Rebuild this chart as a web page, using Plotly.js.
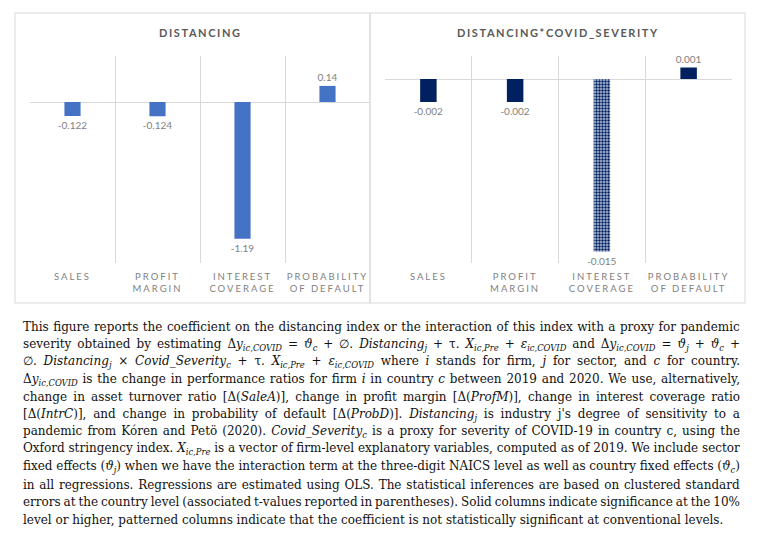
<!DOCTYPE html>
<html>
<head>
<meta charset="utf-8">
<script src="https://cdn.plot.ly/plotly-3.0.1.min.js"></script>
<style>html,body{margin:0;padding:0;background:#fff;}#chart{width:764px;height:549px;}</style>
</head>
<body>
<div id="chart"></div>
<script>
// ---- data ----
const categories = ["SALES", "PROFIT<br>MARGIN", "INTEREST<br>COVERAGE", "PROBABILITY<br>OF DEFAULT"];
const panelTitles = ["DISTANCING", "DISTANCING*COVID_SEVERITY"];
const distancing = [-0.122, -0.124, -1.19, 0.14];
const distancingSeverity = [-0.002, -0.002, -0.015, 0.001];
const severityPatterns = ["", "", ".", ""];   // patterned = not significant
const captionLines = [
  "This figure reports the coefficient on the distancing index or the interaction of this index with a proxy for pandemic",
  "severity obtained by estimating Δ<i>y<sub>ic,COVID</sub></i> = <i>ϑ<sub>c</sub></i> + ∅. <i>Distancing<sub>j</sub></i> + τ. <i>X<sub>ic,Pre</sub></i> + <i>ε<sub>ic,COVID</sub></i> and Δ<i>y<sub>ic,COVID</sub></i> = <i>ϑ<sub>j</sub></i> + <i>ϑ<sub>c</sub></i> +",
  "∅. <i>Distancing<sub>j</sub></i> × <i>Covid_Severity<sub>c</sub></i> + τ. <i>X<sub>ic,Pre</sub></i> + <i>ε<sub>ic,COVID</sub></i> where <i>i</i> stands for firm, <i>j</i> for sector, and <i>c</i> for country.",
  "Δ<i>y<sub>ic,COVID</sub></i> is the change in performance ratios for firm <i>i</i> in country <i>c</i> between 2019 and 2020. We use, alternatively,",
  "change in asset turnover ratio [Δ(<i>SaleA</i>)], change in profit margin [Δ(<i>ProfM</i>)], change in interest coverage ratio",
  "[Δ(<i>IntrC</i>)], and change in probability of default [Δ(<i>ProbD</i>)]. <i>Distancing<sub>j</sub></i> is industry j's degree of sensitivity to a",
  "pandemic from Kóren and Petö (2020). <i>Covid_Severity<sub>c</sub></i> is a proxy for severity of COVID-19 in country c, using the",
  "Oxford stringency index. <i>X<sub>ic,Pre</sub></i> is a vector of firm-level explanatory variables, computed as of 2019. We include sector",
  "fixed effects (<i>ϑ<sub>j</sub></i>) when we have the interaction term at the three-digit NAICS level as well as country fixed effects (<i>ϑ<sub>c</sub></i>)",
  "in all regressions. Regressions are estimated using OLS. The statistical inferences are based on clustered standard",
  "errors at the country level (associated t-values reported in parentheses). Solid columns indicate significance at the 10%",
  "level or higher, patterned columns indicate that the coefficient is not statistically significant at conventional levels."
];

// ---- layout helpers ----
const W = 764, H = 549;
const px = x => x / W;
const py = y => 1 - y / H;
const grey = "#595959", lightGrey = "#7f7f7f", gridc = "#d9d9d9";
const sans = "Lato, 'Open Sans', sans-serif";
const serif = "'DejaVu Serif', serif";

const traces = [
  {type: "bar", x: categories, y: distancing, xaxis: "x", yaxis: "y",
   marker: {color: "#4472C4"}, text: distancing.map(String), texttemplate: "%{text}",
   textposition: "outside", constraintext: "none",
   textfont: {family: sans, size: 10, color: lightGrey}, cliponaxis: false, hoverinfo: "skip"},
  {type: "bar", x: categories, y: distancingSeverity, xaxis: "x2", yaxis: "y2",
   marker: {color: "#002060", pattern: {shape: severityPatterns, size: 3, solidity: 0.5, bgcolor: "#b9c3dc"}},
   text: distancingSeverity.map(String), texttemplate: "%{text}",
   textposition: "outside", constraintext: "none",
   textfont: {family: sans, size: 10, color: lightGrey}, cliponaxis: false, hoverinfo: "skip"}
];

const xcommon = {type: "category", tickson: "boundaries", showgrid: true, gridcolor: gridc, gridwidth: 1,
  ticks: "", showline: false, zeroline: false, ticklabelstandoff: 6,
  tickfont: {family: sans, size: 9.5, color: lightGrey}, fixedrange: true};
const ycommon = {showgrid: false, showticklabels: false, ticks: "", zeroline: true,
  zerolinecolor: gridc, zerolinewidth: 1, showline: false, fixedrange: true};

const annotations = [
  {text: "<b>" + panelTitles[0] + "</b>", x: px(200), y: py(32), xref: "paper", yref: "paper",
   showarrow: false, font: {family: sans, size: 11, color: grey}, xanchor: "center", yanchor: "middle"},
  {text: "<b>" + panelTitles[1] + "</b>", x: px(558), y: py(32), xref: "paper", yref: "paper",
   showarrow: false, font: {family: sans, size: 11, color: grey}, xanchor: "center", yanchor: "middle"}
];
const capStart = annotations.length;
captionLines.forEach((t, i) => {
  annotations.push({text: t, x: px(21), y: py(327 + i * 17.5), xref: "paper", yref: "paper",
    showarrow: false, xanchor: "left", yanchor: "middle", align: "left",
    font: {family: serif, size: 12, color: "#111111"}});
});

const layout = {
  width: W, height: H, margin: {l: 0, r: 0, t: 0, b: 0},
  paper_bgcolor: "#ffffff", plot_bgcolor: "#ffffff", showlegend: false,
  bargap: 0.81,
  xaxis: Object.assign({}, xcommon, {domain: [px(30), px(370)], anchor: "y"}),
  yaxis: Object.assign({}, ycommon, {domain: [py(263), py(56)], range: [-1.4, 0.4], anchor: "x"}),
  xaxis2: Object.assign({}, xcommon, {domain: [px(385), px(732)], anchor: "y2"}),
  yaxis2: Object.assign({}, ycommon, {domain: [py(263), py(56)], range: [-0.016, 0.002], anchor: "x2"}),
  shapes: [
    {type: "rect", xref: "paper", yref: "paper", x0: px(15), x1: px(370), y0: py(303), y1: py(13),
     line: {color: gridc, width: 1}, fillcolor: "rgba(0,0,0,0)", layer: "below"},
    {type: "rect", xref: "paper", yref: "paper", x0: px(370), x1: px(745), y0: py(303), y1: py(13),
     line: {color: gridc, width: 1}, fillcolor: "rgba(0,0,0,0)", layer: "below"}
  ],
  annotations: annotations
};

Plotly.newPlot("chart", traces, layout, {staticPlot: true}).then(gd => {
  // letter-spacing for category labels and titles
  gd.querySelectorAll("g.xtick text, g.x2tick text").forEach(t => { t.style.letterSpacing = "2px"; });
  gd.querySelectorAll("g.annotation").forEach(g => {
    const idx = +g.getAttribute("data-index");
    const t = g.querySelector("text.annotation-text");
    if (!t) return;
    if (idx < capStart) { t.style.letterSpacing = "1.6px"; return; }
    const line = idx - capStart;
    if (line >= captionLines.length - 1) return;
    const target = 717;
    const w = t.getBBox().width;
    const n = (t.textContent.match(/ /g) || []).length;
    if (n > 0) t.style.wordSpacing = ((target - w) / n).toFixed(3) + "px";
  });
});
</script>
</body>
</html>
